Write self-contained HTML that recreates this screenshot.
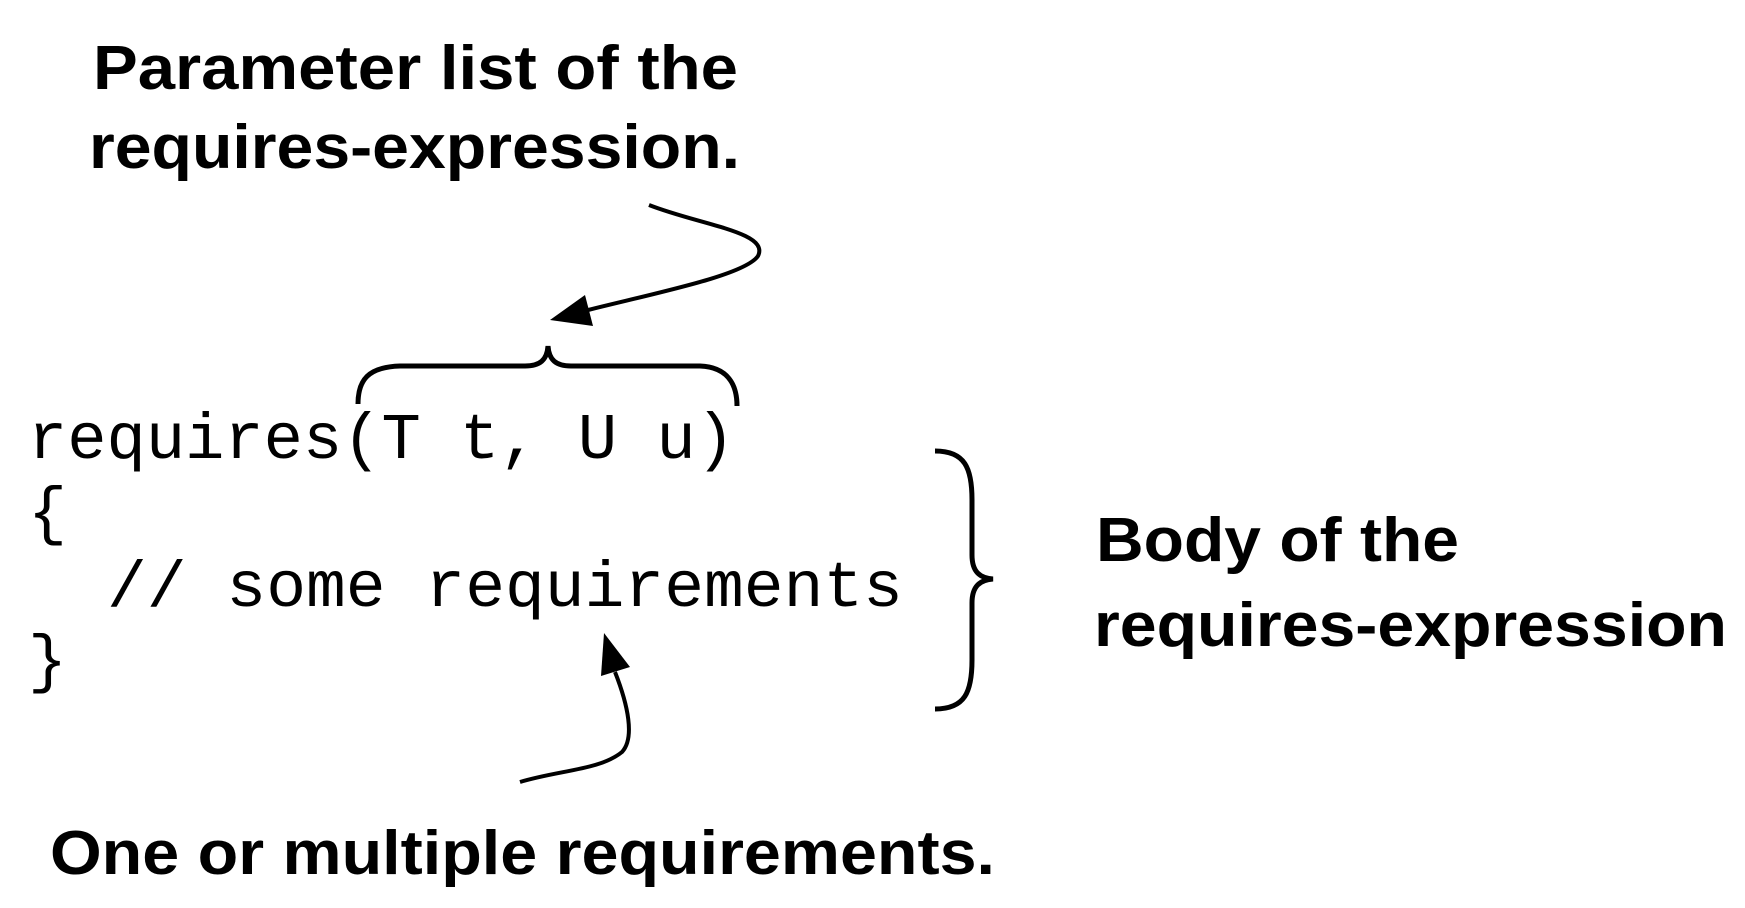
<!DOCTYPE html>
<html><head><meta charset="utf-8"><style>
html,body{margin:0;padding:0;background:#fff;}
svg{display:block;}
.b{font-family:"Liberation Sans",Arial,sans-serif;font-weight:bold;font-size:62px;fill:#000;}
.m{font-family:"Liberation Mono","Courier New",monospace;font-size:65px;fill:#000;}
</style></head><body>
<svg width="1745" height="908" viewBox="0 0 1745 908" xmlns="http://www.w3.org/2000/svg">
<text class="b" x="93" y="89" textLength="645" lengthAdjust="spacingAndGlyphs">Parameter list of the</text>
<text class="b" x="89" y="168" textLength="651" lengthAdjust="spacingAndGlyphs">requires-expression.</text>
<text class="m" x="28" y="458" textLength="707" lengthAdjust="spacingAndGlyphs">requires(T t, U u)</text>
<text class="m" x="28" y="532">{</text>
<text class="m" x="107" y="606" textLength="796" lengthAdjust="spacingAndGlyphs">// some requirements</text>
<text class="m" x="28" y="680">}</text>
<text class="b" x="1096" y="561" textLength="363" lengthAdjust="spacingAndGlyphs">Body of the</text>
<text class="b" x="1094" y="646" textLength="633" lengthAdjust="spacingAndGlyphs">requires-expression</text>
<text class="b" x="50" y="874" textLength="945" lengthAdjust="spacingAndGlyphs">One or multiple requirements.</text>
<path d="M358 404 C358 380 368 367 400 366 L525 366 C540 366 547 360 548 346 C549 360 556 366 571 366 L700 366 C728 367 737 385 737 406" fill="none" stroke="#000" stroke-width="5"/>
<path d="M649 205 C700 225 770 232 758 256 C745 275 660 292 588 310" fill="none" stroke="#000" stroke-width="4"/>
<polygon points="550,320 585,295 593,326" fill="#000"/>
<path d="M935 451 C965 451 972 468 972 500 L972 555 C972 572 980 578 993 579 C980 580 972 586 972 603 L972 660 C972 692 965 709 935 709" fill="none" stroke="#000" stroke-width="5"/>
<path d="M520 782 C560 770 600 770 622 752 C635 738 628 705 615 672" fill="none" stroke="#000" stroke-width="4"/>
<polygon points="604,633 601,676 630,667" fill="#000"/>
</svg>
</body></html>
